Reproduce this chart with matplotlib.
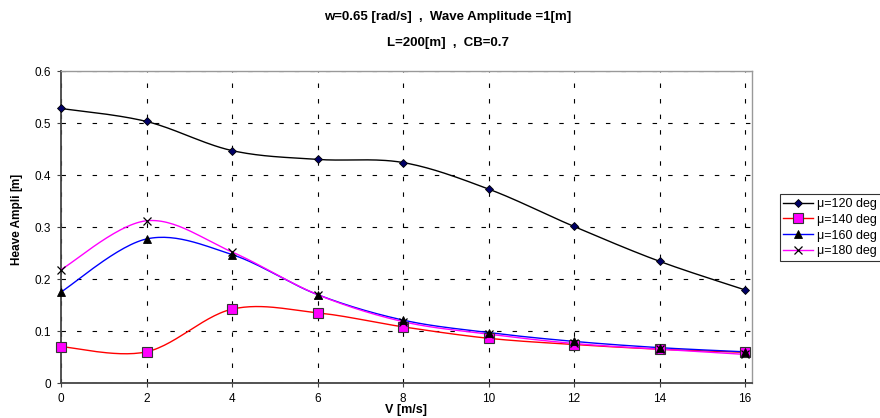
import numpy as np
import matplotlib
matplotlib.use("Agg")
import matplotlib.pyplot as plt

plt.rcParams['font.family'] = ['Liberation Sans', 'DejaVu Sans']

V = [0, 2, 4, 6, 8, 10, 12, 14, 16]
heave_120 = [0.528, 0.503, 0.447, 0.430, 0.424, 0.373, 0.301, 0.234, 0.179]
heave_140 = [0.070, 0.060, 0.142, 0.135, 0.108, 0.086, 0.074, 0.065, 0.059]
heave_160 = [0.175, 0.277, 0.247, 0.170, 0.121, 0.097, 0.080, 0.068, 0.060]
heave_180 = [0.218, 0.312, 0.252, 0.170, 0.118, 0.094, 0.076, 0.065, 0.055]
labels = [u'\u03bc=120 deg', u'\u03bc=140 deg', u'\u03bc=160 deg', u'\u03bc=180 deg']


def smooth(x, y, n=30):
    # bezier segments with catmull-rom style control points
    x = np.asarray(x, float)
    y = np.asarray(y, float)
    px = np.concatenate([[x[0]], x, [x[-1]]])
    py = np.concatenate([[y[0]], y, [y[-1]]])
    t = np.linspace(0, 1, n)
    xs, ys = [], []
    for i in range(1, len(px) - 2):
        c1x = px[i] + (px[i+1] - px[i-1]) / 6.0
        c1y = py[i] + (py[i+1] - py[i-1]) / 6.0
        c2x = px[i+1] - (px[i+2] - px[i]) / 6.0
        c2y = py[i+1] - (py[i+2] - py[i]) / 6.0
        b0 = (1-t)**3
        b1 = 3*(1-t)**2*t
        b2 = 3*(1-t)*t**2
        b3 = t**3
        xs.append(b0*px[i] + b1*c1x + b2*c2x + b3*px[i+1])
        ys.append(b0*py[i] + b1*c1y + b2*c2y + b3*py[i+1])
    return np.concatenate(xs), np.concatenate(ys)


fig = plt.figure(figsize=(8.8, 4.18), dpi=100)
ax = fig.add_axes([0.0693, 0.0837, 0.7852, 0.7464])

series = [heave_120, heave_140, heave_160, heave_180]
colors = ['black', 'red', 'blue', '#ff00ff']
styles = [dict(marker='D', ms=4, mfc='#000066', mec='black', mew=0.6),
          dict(marker='s', ms=6.5, mfc='#ff00ff', mec='#333333', mew=0.8),
          dict(marker='^', ms=6, mfc='black', mec='black', mew=0.6),
          dict(marker='x', ms=6, mfc='none', mec='black', mew=0.9)]

handles = []
for y, c, st, lab in zip(series, colors, styles, labels):
    sx, sy = smooth(V, y)
    ax.plot(sx, sy, color=c, lw=1.0, zorder=3)
    ax.plot(V, y, ls='none', zorder=4, clip_on=False, **st)
    h, = ax.plot([], [], color=c, lw=1.0, **st)
    handles.append(h)

ax.set_xlim(0, 16.16)
ax.set_ylim(0, 0.6)
ax.set_xticks(V)
ax.set_yticks([0, 0.1, 0.2, 0.3, 0.4, 0.5, 0.6])
ax.set_yticklabels(['0', '0.1', '0.2', '0.3', '0.4', '0.5', '0.6'])
ax.tick_params(labelsize=8.5, length=3, width=0.8, color='#444444', pad=4)
ax.grid(True, color='black', lw=0.8, ls=(0, (4, 10)))

for s in ['left', 'bottom']:
    ax.spines[s].set_color('#444444')
    ax.spines[s].set_linewidth(1.3)
for s in ['top', 'right']:
    ax.spines[s].set_color('#999999')
    ax.spines[s].set_linewidth(1.0)

fig.text(0.4614, 0.018, 'V [m/s]', fontsize=9, fontweight='bold',
         ha='center', va='center')
fig.text(0.019, 0.45, 'Heave Ampli', rotation=90, fontsize=8.5,
         fontweight='bold', ha='center', va='center')
fig.text(0.019, 0.565, '[m]', rotation=90, fontsize=8.5,
         fontweight='bold', ha='center', va='center')

fig.text(0.509, 0.96, 'w=0.65 [rad/s]  ,  Wave Amplitude =1[m]', fontsize=9.5,
         fontweight='bold', ha='center', va='center')
fig.text(0.509, 0.897, 'L=200[m]  ,  CB=0.7', fontsize=9.5,
         fontweight='bold', ha='center', va='center')

leg = fig.legend(handles, labels, loc='upper left', bbox_to_anchor=(0.886, 0.535),
                 fontsize=9, frameon=True, fancybox=False, edgecolor='black',
                 borderpad=0.3, labelspacing=0.3, handlelength=2.4,
                 handletextpad=0.3, borderaxespad=0)
leg.get_frame().set_linewidth(0.8)

fig.savefig('out.png', dpi=100)
